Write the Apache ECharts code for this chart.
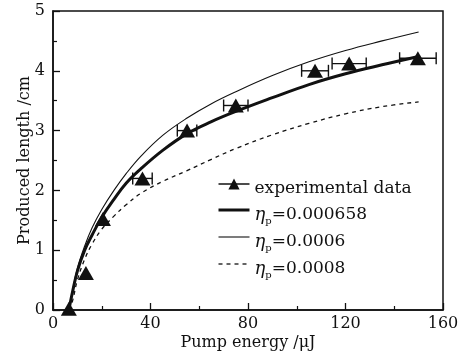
<!DOCTYPE html>
<html>
<head>
<meta charset="utf-8">
<script src="https://cdn.jsdelivr.net/npm/echarts@6/dist/echarts.min.js"></script>
<style>
  html, body { margin: 0; padding: 0; background: #fff; }
  #chart { width: 471px; height: 359px; }
</style>
</head>
<body>
<div id="chart"></div>
<script>
// experimental points (pump energy, length, horizontal error)
const expX = [6.5, 13.5, 20.5, 36.7, 55, 75, 107.5, 121.5, 149.7]
const expY = [0.02, 0.62, 1.52, 2.2, 3.0, 3.42, 4.0, 4.12, 4.21]
const expErr = [0, 0, 0, 4, 4, 5, 5.5, 7, 7.5]

// simulated curves, sampled off the figure
const fitX = [6.5, 8, 10, 13, 16, 20, 25, 30, 36, 45, 55, 65, 75, 90, 105, 120, 135, 150]
const fit658 = [0, 0.3, 0.65, 1.0, 1.25, 1.55, 1.85, 2.12, 2.36, 2.67, 2.95, 3.15, 3.32, 3.55, 3.77, 3.95, 4.1, 4.24]
const fit6 = [0, 0.32, 0.7, 1.07, 1.37, 1.68, 2.0, 2.28, 2.57, 2.92, 3.21, 3.45, 3.65, 3.92, 4.15, 4.34, 4.5, 4.65]
const fit8 = [0, 0.15, 0.5, 0.85, 1.1, 1.35, 1.57, 1.76, 1.95, 2.15, 2.33, 2.52, 2.7, 2.93, 3.12, 3.28, 3.4, 3.48]

const xTicks = { min: 0, max: 160, interval: 40 }
const yTicks = { min: 0, max: 5, interval: 1 }

const names = ["experimental data", "ηp=0.000658", "ηp=0.0006", "ηp=0.0008"]

const ink = "#111"
const font = "DejaVu Serif"

const zip = (xs, ys) => xs.map((x, i) => [x, ys[i]])

const chart = echarts.init(document.getElementById("chart"))

const axisCommon = {
  axisLine: { lineStyle: { color: ink, width: 1.5 } },
  axisTick: { inside: true, length: 7, lineStyle: { color: ink, width: 1.3 } },
  minorTick: { show: true, splitNumber: 2, length: 4, lineStyle: { color: ink, width: 1.2 } },
  splitLine: { show: false },
  axisLabel: { color: ink, fontFamily: font, fontSize: 16 },
  nameTextStyle: { color: ink, fontFamily: font, fontSize: 16 },
  nameMoveOverlap: false,
}

const thick = { color: ink, width: 3 }
const thin = { color: ink, width: 1.1 }
const dashed = { color: ink, width: 1.3, type: [4, 4] }
const noDot = { opacity: 0 }

// legend text pieces: all top-aligned in a 24px box, subscript pushed down by padding
const tok = { fontFamily: font, color: ink, verticalAlign: "top" }

const option = {
  backgroundColor: "#fff",
  animation: false,
  color: [ink],
  grid: {
    left: 53, right: 28, top: 11, bottom: 49,
    show: true, borderColor: ink, borderWidth: 1.5,
  },
  xAxis: {
    type: "value",
    ...xTicks,
    ...axisCommon,
    axisLabel: { ...axisCommon.axisLabel, margin: 6 },
    name: "Pump energy /μJ",
    nameLocation: "middle",
    nameGap: 25,
  },
  yAxis: {
    type: "value",
    ...yTicks,
    ...axisCommon,
    axisLabel: { ...axisCommon.axisLabel, margin: 8 },
    name: "Produced length /cm",
    nameLocation: "middle",
    nameGap: 20,
  },
  legend: {
    orient: "vertical",
    left: 212,
    top: 171,
    itemWidth: 31,
    itemHeight: 14,
    itemGap: 1,
    data: [
      { name: names[0], lineStyle: { opacity: 1, width: 1.5, color: ink } },
      { name: names[1], itemStyle: noDot, lineStyle: thick },
      { name: names[2], itemStyle: noDot, lineStyle: thin },
      { name: names[3], itemStyle: noDot, lineStyle: dashed },
    ],
    textStyle: {
      color: ink, fontFamily: font, fontSize: 17,
      rich: {
        e: { ...tok, fontSize: 18, fontStyle: "italic", lineHeight: 16, padding: [4, 0, 4, 0] },
        s: { ...tok, fontSize: 10, lineHeight: 10, padding: [14, 0, 0, 0] },
        t: { ...tok, fontSize: 17, lineHeight: 16, padding: [4, 0, 4, 0] },
      },
    },
    formatter: (name) => {
      if (name.startsWith("ηp")) return "{e|η}{s|p}{t|" + name.slice(2) + "}"
      return "{t|" + name + "}"
    },
  },
  series: [
    {
      name: names[1], type: "line", smooth: 0.4, symbol: "none",
      lineStyle: thick,
      data: zip(fitX, fit658), z: 3,
    },
    {
      name: names[2], type: "line", smooth: 0.4, symbol: "none",
      lineStyle: thin,
      data: zip(fitX, fit6), z: 2,
    },
    {
      name: names[3], type: "line", smooth: 0.4, symbol: "none",
      lineStyle: dashed,
      data: zip(fitX, fit8), z: 2,
    },
    {
      type: "custom",
      z: 4,
      renderItem: (params, api) => {
        const x = api.value(0), y = api.value(1), e = api.value(2)
        if (!e) return
        const a = api.coord([x - e, y])
        const b = api.coord([x + e, y])
        const st = { stroke: ink, lineWidth: 1.4 }
        return {
          type: "group",
          children: [
            { type: "line", shape: { x1: a[0], y1: a[1], x2: b[0], y2: b[1] }, style: st },
            { type: "line", shape: { x1: a[0], y1: a[1] - 6, x2: a[0], y2: a[1] + 6 }, style: st },
            { type: "line", shape: { x1: b[0], y1: b[1] - 6, x2: b[0], y2: b[1] + 6 }, style: st },
          ],
        }
      },
      data: expX.map((x, i) => [x, expY[i], expErr[i]]),
    },
    {
      name: names[0], type: "line", symbol: "triangle", symbolSize: [16, 14],
      itemStyle: { color: ink },
      lineStyle: { opacity: 0 },
      data: zip(expX, expY), z: 5,
    },
  ],
}

chart.setOption(option)
</script>
</body>
</html>
